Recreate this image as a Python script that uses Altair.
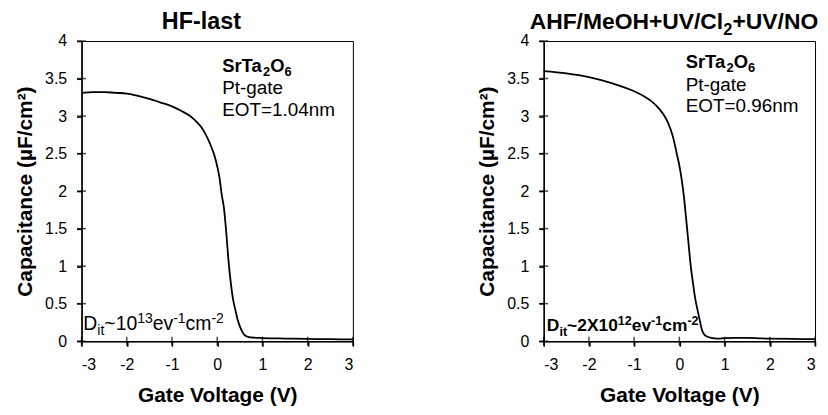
import altair as alt
import pandas as pd

# ---------------- data ----------------
v_left = [-3.0, -2.75, -2.5, -2.25, -2.0, -1.75, -1.5, -1.25, -1.0, -0.8, -0.6, -0.45, -0.35,
          -0.25, -0.15, -0.05, 0.0, 0.05, 0.1, 0.15, 0.2, 0.25, 0.3, 0.35, 0.4, 0.45, 0.5,
          0.55, 0.6, 0.7, 0.8, 1.0, 1.5, 2.0, 2.5, 3.0]
c_left = [3.31, 3.32, 3.32, 3.31, 3.30, 3.27, 3.23, 3.18, 3.13, 3.07, 3.00, 2.92, 2.85,
          2.75, 2.62, 2.45, 2.33, 2.18, 1.95, 1.77, 1.45, 1.07, 0.78, 0.56, 0.42, 0.29, 0.20,
          0.13, 0.085, 0.055, 0.048, 0.042, 0.035, 0.030, 0.026, 0.023]

v_right = [-3.0, -2.5, -2.0, -1.5, -1.0, -0.8, -0.6, -0.45, -0.35, -0.25, -0.15, -0.05, 0.0,
           0.05, 0.1, 0.15, 0.2, 0.25, 0.3, 0.35, 0.4, 0.45, 0.5, 0.55, 0.6, 0.7, 0.85, 1.0,
           1.2, 1.5, 2.0, 2.5, 3.0]
c_right = [3.60, 3.57, 3.52, 3.44, 3.33, 3.27, 3.19, 3.10, 3.02, 2.91, 2.74, 2.48, 2.34,
           2.16, 1.93, 1.63, 1.32, 1.01, 0.78, 0.57, 0.42, 0.28, 0.15, 0.09, 0.065, 0.045,
           0.035, 0.040, 0.045, 0.043, 0.035, 0.030, 0.027]

x_ticks = [-3, -2, -1, 0, 1, 2, 3]
y_ticks = [0, 0.5, 1, 1.5, 2, 2.5, 3, 3.5, 4]

x_title = "Gate Voltage (V)"
y_title = "Capacitance (\u00b5F/cm\u00b2)"

title_left = [("HF-last", "base")]
title_right = [("AHF/MeOH+UV/Cl", "base"), ("2", "sub"), ("+UV/NO", "base")]
material = [("SrTa", "base"), ("2", "sub"), ("O", "base"), ("6", "sub")]
gate = "Pt-gate"
eot_left = "EOT=1.04nm"
eot_right = "EOT=0.96nm"
dit_left = [("D", "base"), ("it", "sub"), ("~10", "base"), ("13", "sup"), ("ev", "base"),
            ("-1", "sup"), ("cm", "base"), ("-2", "sup")]
dit_right = [("D", "base"), ("it", "sub"), ("~2X10", "base"), ("12", "sup"), ("ev", "base"),
             ("-1", "sup"), ("cm", "base"), ("-2", "sup")]

# ---------------- styling helpers ----------------
FONT = "Liberation Sans"
W_REG = {' ': 278, '-': 333, '.': 278, '=': 584, '~': 584, '+': 584, '/': 278,
         'A': 667, 'C': 722, 'D': 722, 'E': 667, 'F': 611, 'G': 778, 'H': 722, 'M': 833,
         'N': 722, 'O': 778, 'P': 667, 'S': 667, 'T': 611, 'U': 722, 'V': 667, 'X': 667,
         'a': 556, 'c': 500, 'e': 556, 'g': 556, 'i': 222, 'l': 222, 'm': 833, 'n': 556,
         'r': 333, 's': 500, 't': 278, 'v': 500}
W_BOLD = {' ': 278, '-': 333, '.': 278, '=': 584, '~': 584, '+': 584, '/': 278,
          'A': 722, 'C': 722, 'D': 722, 'E': 667, 'F': 611, 'H': 722, 'M': 833, 'N': 722,
          'O': 778, 'S': 667, 'T': 611, 'U': 722, 'V': 667, 'X': 667, 'a': 556, 'c': 556,
          'e': 556, 'h': 611, 'i': 278, 'l': 278, 'm': 889, 'n': 611, 'r': 389, 's': 556,
          't': 333, 'v': 556}

AX_STYLE = dict(grid=False, domainColor="black", domainWidth=1.5, tickColor="black",
                tickWidth=1.5, tickSize=5, labelColor="black", labelFont=FONT,
                labelFontSize=16, titleFont=FONT, titleFontSize=21, titleFontWeight="bold",
                titleColor="black")

XS = alt.Scale(domain=[-3, 3], nice=False, zero=False)
YS = alt.Scale(domain=[0, 4], nice=False)
X_AXIS = alt.Axis(values=x_ticks, labelExpr="datum.value + ''", title=x_title,
                  labelPadding=11, titlePadding=12, **AX_STYLE)
Y_AXIS = alt.Axis(values=y_ticks, labelExpr="datum.value + ''", title=y_title,
                  labelPadding=10, titlePadding=9, **AX_STYLE)


def text_width(s, size, bold):
    table = W_BOLD if bold else W_REG
    return sum(table.get(ch, 556) for ch in s) * size / 1000.0


def rich_text(pieces, x, y, size, bold, align="left", lift=0.0, script=0.7):
    sizes = [size if k == "base" else size * script for _, k in pieces]
    total = sum(text_width(t, s, bold) for (t, _), s in zip(pieces, sizes))
    dx = -(total / 2.0 if align == "center" else 0.0)
    layers = []
    for (txt, kind), s in zip(pieces, sizes):
        dy = 0 if kind == "base" else (size * 0.24 if kind == "sub" else -size * 0.38)
        df = pd.DataFrame({"v": [x], "c": [y], "t": [txt]})
        layers.append(
            alt.Chart(df).mark_text(
                align="left", baseline="alphabetic", dx=dx, dy=dy - lift, fontSize=s,
                fontWeight="bold" if bold else "normal", font=FONT, color="black"
            ).encode(
                x=alt.X("v:Q", scale=XS, axis=X_AXIS),
                y=alt.Y("c:Q", scale=YS, axis=Y_AXIS),
                text="t:N",
            )
        )
        dx += text_width(txt, s, bold)
    return layers


def inner_ticks():
    # inner half of the ticks, which cross the axis lines in the reference
    xt = pd.DataFrame({"v": x_ticks, "c": [0] * len(x_ticks)})
    yt = pd.DataFrame({"v": [-3] * len(y_ticks), "c": y_ticks})
    a = alt.Chart(xt).mark_tick(orient="vertical", size=9, thickness=1.5, color="black").encode(
        x=alt.X("v:Q", scale=XS, axis=X_AXIS), y=alt.Y("c:Q", scale=YS, axis=Y_AXIS))
    b = alt.Chart(yt).mark_tick(orient="horizontal", size=9, thickness=1.5, color="black").encode(
        x=alt.X("v:Q", scale=XS, axis=X_AXIS), y=alt.Y("c:Q", scale=YS, axis=Y_AXIS))
    return [a, b]


def panel(v, c, title_pieces, title_x, title_size, mat_x, mat_y, eot, dit, dit_x, dit_y,
          dit_bold, dit_size):
    df = pd.DataFrame({"v": v, "c": c})
    line = alt.Chart(df).mark_line(color="black", strokeWidth=1.8, interpolate="monotone").encode(
        x=alt.X("v:Q", scale=XS, axis=X_AXIS),
        y=alt.Y("c:Q", scale=YS, axis=Y_AXIS),
    )
    layers = [line] + inner_ticks()
    layers += rich_text(title_pieces, title_x, 4, title_size, True, align="center", lift=12,
                        script=0.72)
    layers += rich_text(material, mat_x, mat_y, 18.5, True)
    layers += rich_text([(gate, "base")], mat_x, mat_y - 0.3, 19, False)
    layers += rich_text([(eot, "base")], mat_x, mat_y - 0.59, 19, False)
    layers += rich_text(dit, dit_x, dit_y, dit_size, dit_bold, script=0.72)
    return alt.layer(*layers).properties(width=273, height=302)


left = panel(v_left, c_left, title_left, -0.35, 23.5, 0.11, 3.59, eot_left, dit_left,
             -2.96, 0.15, False, 19.5)
right = panel(v_right, c_right, title_right, -0.12, 23, 0.14, 3.64, eot_right, dit_right,
              -2.93, 0.13, True, 17.5)

chart = alt.hconcat(left, right, spacing=119).properties(
    padding={"left": 6, "top": 0, "right": 0, "bottom": 0}
).configure_view(
    stroke="black", strokeWidth=1
)

chart.save("out.html", embed_options={"renderer": "svg", "actions": False})
